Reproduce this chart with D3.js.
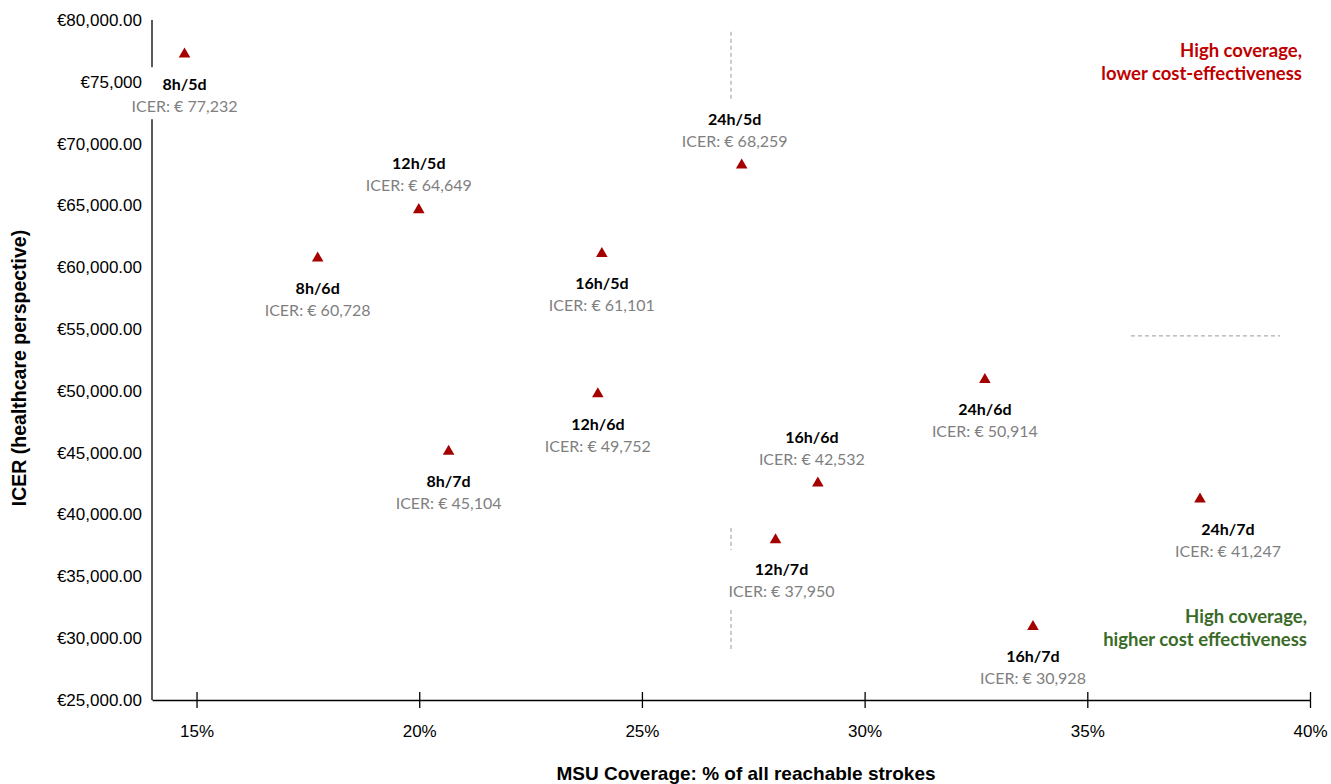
<!DOCTYPE html>
<html><head><meta charset="utf-8">
<script src="https://cdn.jsdelivr.net/npm/d3@7/dist/d3.min.js"></script>
<style>body{margin:0;background:#fff}svg{display:block}</style>
</head><body><svg id="c" width="1331" height="784"></svg>
<script>
// ---- data ----
const scenarios = ["8h/5d","12h/5d","8h/6d","24h/5d","16h/5d","12h/6d","8h/7d","16h/6d","12h/7d","24h/6d","24h/7d","16h/7d"];
const coverage  = [14.73, 19.99, 17.72, 27.24, 24.10, 24.01, 20.66, 28.95, 28.00, 32.70, 37.53, 33.78];
const icer      = [77232, 64649, 60728, 68259, 61101, 49752, 45104, 42532, 37950, 50914, 41247, 30928];
const labelSide = ["below","above","below","above","below","below","below","above","below","below","below","below"];
const xTicks = [15,20,25,30,35,40];
const yTicks = [25000,30000,35000,40000,45000,50000,55000,60000,65000,70000,75000,80000];
const yTickLabels = ["€25,000.00","€30,000.00","€35,000.00","€40,000.00","€45,000.00","€50,000.00","€55,000.00","€60,000.00","€65,000.00","€70,000.00","€75,000","€80,000.00"];
// dashed divider segments [x1,y1,x2,y2] in data units
const dividers = [[27,79045,27,73544],[27,38916,27,37136],[27,32282,27,29045],[35.98,54450,39.33,54450]];
const xTitle = "MSU Coverage: % of all reachable strokes";
const yTitle = "ICER (healthcare perspective)";

// ---- layout ----
const L = 152, R = 1310, T = 20, B = 700;
const labelDx = {"24h/7d": 28, "24h/5d": -7, "16h/6d": -6, "12h/7d": 6};
const svg = d3.select("#c");
const x = d3.scaleLinear().domain([14,40]).range([L,R]);
const y = d3.scaleLinear().domain([25000,80000]).range([B,T]);
const axisFont = "'Liberation Sans', Arial, sans-serif";
const lblFont = "Lato, 'Open Sans', sans-serif";

// dividers
svg.append("g").selectAll("line").data(dividers).join("line")
  .attr("x1",d=>x(d[0])).attr("y1",d=>y(d[1])).attr("x2",d=>x(d[2])).attr("y2",d=>y(d[3]))
  .attr("stroke","#999").attr("stroke-width",1).attr("stroke-dasharray","4,3");

// y axis line (drawn under label boxes)
svg.append("line").attr("x1",x(14)).attr("x2",x(14)).attr("y1",y(80000)).attr("y2",y(25000))
  .attr("stroke","#000").attr("stroke-width",1.3);

// points + labels
const pts = scenarios.map((s,i)=>({s, cx:x(coverage[i]), cy:y(icer[i]), v:icer[i], side:labelSide[i]}));
const lg = svg.append("g");
pts.forEach(p=>{
  const dx = labelDx[p.s]||0;
  const nameY = p.side==="below" ? p.cy+30 : p.cy-46;
  const icerY = nameY+22;
  const g = lg.append("g");
  g.append("rect").attr("x",p.cx+dx-58).attr("y",nameY-17).attr("width",116).attr("height",52).attr("fill","#fff");
  g.append("text").attr("x",p.cx+dx).attr("y",nameY).attr("dy","0.35em").attr("text-anchor","middle")
    .attr("font-family",lblFont).attr("font-weight","bold").attr("font-size",16).attr("fill","#000").text(p.s);
  g.append("text").attr("x",p.cx+dx).attr("y",icerY).attr("dy","0.35em").attr("text-anchor","middle")
    .attr("font-family",lblFont).attr("font-size",16).attr("fill","#7f7f7f").text("ICER: € "+d3.format(",")(p.v));
});
svg.append("g").selectAll("path").data(pts).join("path")
  .attr("transform",d=>`translate(${d.cx},${d.cy})`)
  .attr("d",d3.symbol(d3.symbolTriangle,58)).attr("fill","#a50000");

// x axis
const xa = svg.append("g").attr("transform",`translate(0,${B})`)
  .call(d3.axisBottom(x).tickValues(xTicks).tickFormat(d=>d+"%").tickSizeInner(8).tickSizeOuter(0).tickPadding(14));
xa.select(".domain").attr("stroke","#000").attr("stroke-width",1.3);
xa.selectAll(".tick line").attr("stroke","#000").attr("stroke-width",1.3).attr("y1",-8).attr("y2",8);
xa.selectAll(".tick text").attr("font-family",axisFont).attr("font-size",17).attr("fill","#000").attr("dy","0.9em");

// y axis tick labels (above label boxes)
const ya = svg.append("g").attr("transform",`translate(${L},0)`)
  .call(d3.axisLeft(y).tickValues(yTicks).tickFormat((d,i)=>yTickLabels[i]).tickSize(0).tickPadding(10));
ya.select(".domain").remove();
ya.selectAll(".tick text").attr("font-family",axisFont).attr("font-size",17).attr("fill","#000");

// titles
svg.append("text").attr("x",(L+R)/2+15).attr("y",780).attr("text-anchor","middle")
  .attr("font-family",axisFont).attr("font-weight","bold").attr("font-size",19).text(xTitle);
svg.append("text").attr("transform",`translate(26,${368}) rotate(-90)`).attr("text-anchor","middle")
  .attr("font-family",axisFont).attr("font-weight","bold").attr("font-size",19.5).text(yTitle);

// quadrant notes
const note = (lines, yy, color, xr)=>{
  const t = svg.append("text").attr("text-anchor","end").attr("font-family",lblFont).attr("font-weight","bold")
    .attr("font-size",18.5).attr("fill",color);
  lines.forEach((l,i)=>t.append("tspan").attr("x",xr).attr("y",yy+i*23).text(l));
};
note(["High coverage,","lower cost-effectiveness"],57,"#c00000",1302);
note(["High coverage,","higher cost effectiveness"],623,"#3a6b27",1307);
</script></body></html>
